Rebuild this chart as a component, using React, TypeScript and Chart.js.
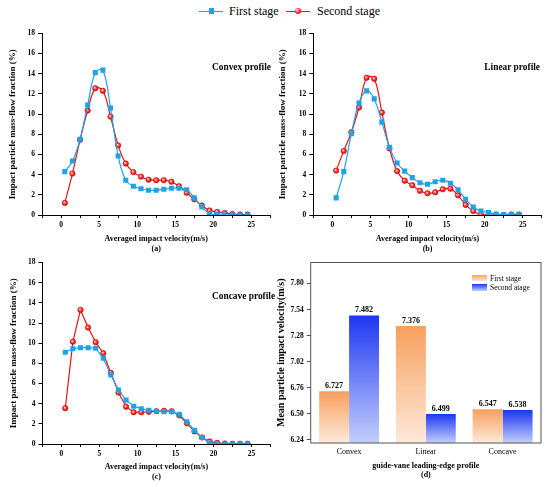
import { useEffect, useRef } from "react";
import Chart from "chart.js/auto";

const FONT = "'Liberation Serif', 'Times New Roman', serif";
const BLUE = "#1fa2e6";
const RED = "#ee1111";

// bin centres of the averaged impact velocity (m/s)
const velocity = [
  0.5, 1.5, 2.5, 3.5, 4.5, 5.5, 6.5, 7.5, 8.5, 9.5, 10.5, 11.5, 12.5, 13.5,
  14.5, 15.5, 16.5, 17.5, 18.5, 19.5, 20.5, 21.5, 22.5, 23.5, 24.5
];

const convexFirst = [
  4.3, 5.35, 7.5, 10.9, 14.1, 14.35, 10.6, 5.85, 3.45, 2.85, 2.6, 2.45, 2.45,
  2.55, 2.65, 2.65, 2.5, 1.7, 0.8, 0.15, 0.05, 0.02, 0, 0, 0
];
const convexSecond = [
  1.2, 4.1, 7.45, 10.35, 12.55, 12.3, 9.75, 6.9, 5.1, 4.25, 3.8, 3.5, 3.45,
  3.45, 3.3, 2.85, 2.2, 1.55, 0.95, 0.45, 0.3, 0.2, 0.1, 0.05, 0.05
];
const linearFirst = [
  1.7, 4.3, 8.05, 11.1, 12.3, 11.5, 9.2, 6.7, 5.15, 4.35, 3.7, 3.2, 3.05, 3.3,
  3.45, 3.15, 2.5, 1.55, 0.8, 0.4, 0.25, 0.1, 0.05, 0.02, 0.02
];
const linearSecond = [
  4.4, 6.35, 8.2, 10.65, 13.6, 13.5, 10.15, 6.6, 4.35, 3.4, 2.95, 2.4, 2.15,
  2.25, 2.55, 2.6, 1.95, 1.0, 0.4, 0.05, 0, 0, 0, 0.05, 0.05
];
const concaveFirst = [
  9.1, 9.45, 9.55, 9.55, 9.5, 8.5, 6.85, 5.35, 4.35, 3.75, 3.5, 3.35, 3.25,
  3.2, 3.2, 2.95, 2.2, 1.35, 0.65, 0.1, 0.02, 0, 0, 0, 0
];
const concaveSecond = [
  3.55, 10.15, 13.3, 11.55, 10.1, 9.0, 7.05, 5.1, 3.7, 3.15, 3.15, 3.2, 3.25,
  3.3, 3.25, 2.85, 2.05, 1.25, 0.65, 0.25, 0.12, 0.05, 0.02, 0.02, 0.02
];

const xTickValues = [-2.5, 0, 2.5, 5, 7.5, 10, 12.5, 15, 17.5, 20, 22.5, 25, 27.5];
const yTickValues = [0, 2, 4, 6, 8, 10, 12, 14, 16, 18];

const barCategories = ["Convex", "Linear", "Concave"];
const barFirst = [6.727, 7.376, 6.547];
const barSecond = [7.482, 6.499, 6.538];
const barTicks = [6.24, 6.5, 6.76, 7.02, 7.28, 7.54, 7.8];

type Geo = {
  axisW: number;
  top: number;
  right: number;
  bottom: number;
  xh: number;
  yTitlePad: number;
};

const sphere = (ctx: any) => {
  const chart = ctx.chart;
  const xs = chart.scales?.x;
  const ys = chart.scales?.y;
  if (!xs || !ys || !ctx.parsed || !chart.chartArea) return RED;
  const px = xs.getPixelForValue(ctx.parsed.x);
  const py = ys.getPixelForValue(ctx.parsed.y);
  const g = chart.ctx.createRadialGradient(px - 0.8, py - 0.8, 0.2, px, py, 3.2);
  g.addColorStop(0, "#ffe0e0");
  g.addColorStop(0.45, "#ff3a3a");
  g.addColorStop(1, "#d00000");
  return g;
};

function LinePanel({
  first,
  second,
  tension,
  label,
  geo
}: {
  first: number[];
  second: number[];
  tension: number;
  label: string;
  geo: Geo;
}) {
  const canvasRef = useRef<HTMLCanvasElement | null>(null);

  useEffect(() => {
    if (!canvasRef.current) return;
    const tickFont = { family: FONT, size: 7.5, weight: "bold" as const };
    const chart = new Chart(canvasRef.current, {
      type: "line",
      data: {
        datasets: [
          {
            label: "First stage",
            data: velocity.map((v, i) => ({ x: v, y: first[i] })),
            borderColor: BLUE,
            backgroundColor: BLUE,
            borderWidth: 1.2,
            pointStyle: "rect",
            pointRadius: 3.6,
            pointBackgroundColor: BLUE,
            pointBorderColor: BLUE,
            pointBorderWidth: 0,
            tension
          },
          {
            label: "Second stage",
            data: velocity.map((v, i) => ({ x: v, y: second[i] })),
            borderColor: RED,
            backgroundColor: RED,
            borderWidth: 1.2,
            pointStyle: "circle",
            pointRadius: 2.7,
            pointBackgroundColor: sphere,
            pointBorderColor: "#c80000",
            pointBorderWidth: 0.6,
            tension
          }
        ]
      },
      options: {
        responsive: true,
        maintainAspectRatio: false,
        animation: false,
        layout: {
          padding: { left: 0, top: geo.top, right: geo.right, bottom: geo.bottom }
        },
        plugins: {
          legend: { display: false },
          tooltip: { enabled: false }
        },
        scales: {
          x: {
            type: "linear",
            min: -2.5,
            max: 27.5,
            afterBuildTicks: (s: any) => {
              s.ticks = xTickValues.map((v) => ({ value: v }));
            },
            afterFit: (s: any) => {
              s.height = geo.xh;
            },
            grid: {
              drawOnChartArea: false,
              drawTicks: true,
              tickLength: 3,
              tickColor: "#000"
            },
            border: { display: true, color: "#000", width: 1 },
            ticks: {
              autoSkip: false,
              maxRotation: 0,
              padding: 3,
              color: "#000",
              font: tickFont,
              callback: (v: any) =>
                Number(v) % 5 === 0 && Number(v) >= 0 && Number(v) <= 25 ? String(v) : ""
            },
            title: {
              display: true,
              text: ["Averaged impact velocity(m/s)", label],
              color: "#000",
              font: { family: FONT, size: 8, weight: "bold", lineHeight: 1.25 },
              padding: { top: 0, bottom: 1 }
            }
          },
          y: {
            min: 0,
            max: 18,
            afterBuildTicks: (s: any) => {
              s.ticks = yTickValues.map((v) => ({ value: v }));
            },
            afterFit: (s: any) => {
              s.width = geo.axisW;
            },
            grid: {
              drawOnChartArea: false,
              drawTicks: true,
              tickLength: 4,
              tickColor: "#000"
            },
            border: { display: true, color: "#000", width: 1 },
            ticks: { padding: 3, color: "#000", font: tickFont },
            title: {
              display: true,
              text: "Impact particle mass-flow fraction (%)",
              color: "#000",
              font: { family: FONT, size: 9, weight: "bold", lineHeight: 1.2 },
              padding: { top: geo.yTitlePad, bottom: 0 }
            }
          }
        }
      }
    });
    return () => chart.destroy();
  }, [first, second, tension, label, geo]);

  return (
    <div style={{ position: "relative", width: "100%", height: "100%" }}>
      <canvas ref={canvasRef} />
    </div>
  );
}

const barGradient = (top: string, bottom: string) => (ctx: any) => {
  const chart = ctx.chart;
  const area = chart.chartArea;
  if (!area || ctx.type !== "data" || !chart.scales?.y) return top;
  const yPx = chart.scales.y.getPixelForValue(ctx.raw);
  const g = chart.ctx.createLinearGradient(0, yPx, 0, area.bottom);
  g.addColorStop(0, top);
  g.addColorStop(1, bottom);
  return g;
};

const framePlugin = {
  id: "frame",
  afterDraw(chart: any) {
    const { ctx, chartArea: a } = chart;
    ctx.save();
    ctx.strokeStyle = "#555";
    ctx.lineWidth = 1;
    ctx.strokeRect(a.left, a.top, a.right - a.left, a.bottom - a.top);
    ctx.restore();
  }
};

const valueLabels = {
  id: "valueLabels",
  afterDatasetsDraw(chart: any) {
    const { ctx } = chart;
    ctx.save();
    ctx.font = `bold 8px ${FONT}`;
    ctx.fillStyle = "#000";
    ctx.textAlign = "center";
    ctx.textBaseline = "bottom";
    chart.data.datasets.forEach((ds: any, di: number) => {
      chart.getDatasetMeta(di).data.forEach((el: any, i: number) => {
        ctx.fillText(Number(ds.data[i]).toFixed(3), el.x, el.y - 1.5);
      });
    });
    ctx.restore();
  }
};

function BarPanel() {
  const canvasRef = useRef<HTMLCanvasElement | null>(null);

  useEffect(() => {
    if (!canvasRef.current) return;
    const chart = new Chart(canvasRef.current, {
      type: "bar",
      data: {
        labels: barCategories,
        datasets: [
          {
            label: "First stage",
            data: barFirst,
            backgroundColor: barGradient("#f6a05c", "#fde9da"),
            borderWidth: 0
          },
          {
            label: "Second atage",
            data: barSecond,
            backgroundColor: barGradient("#1d36f2", "#c4cffa"),
            borderWidth: 0
          }
        ]
      },
      plugins: [framePlugin, valueLabels],
      options: {
        responsive: true,
        maintainAspectRatio: false,
        animation: false,
        layout: { padding: { left: 0, top: 6, right: 9, bottom: 6 } },
        datasets: { bar: { categoryPercentage: 0.78, barPercentage: 1 } },
        plugins: {
          legend: { display: false },
          tooltip: { enabled: false }
        },
        scales: {
          x: {
            afterFit: (s: any) => {
              s.height = 38;
            },
            grid: { display: false, drawTicks: false, tickLength: 0 },
            border: { display: false },
            ticks: {
              padding: 4,
              color: "#000",
              font: { family: FONT, size: 8 }
            },
            title: {
              display: true,
              text: ["guide-vane leading-edge profile", "(d)"],
              color: "#000",
              font: { family: FONT, size: 8, weight: "bold", lineHeight: 1.15 },
              padding: { top: 0, bottom: 1 }
            }
          },
          y: {
            min: 6.21,
            max: 8.01,
            afterBuildTicks: (s: any) => {
              s.ticks = barTicks.map((v) => ({ value: v }));
            },
            afterFit: (s: any) => {
              s.width = 35.7;
            },
            grid: {
              drawOnChartArea: false,
              drawTicks: true,
              tickLength: 4,
              tickColor: "#555"
            },
            border: { display: false },
            ticks: {
              padding: 3,
              color: "#000",
              font: { family: FONT, size: 7.5, weight: "bold" },
              callback: (v: any) => Number(v).toFixed(2)
            },
            title: {
              display: true,
              text: "Mean particle impact velocity(m/s)",
              color: "#000",
              font: { family: FONT, size: 10, weight: "bold", lineHeight: 1.2 },
              padding: { top: 0, bottom: 0 }
            }
          }
        }
      }
    });
    return () => chart.destroy();
  }, []);

  return (
    <div style={{ position: "relative", width: "100%", height: "100%" }}>
      <canvas ref={canvasRef} />
    </div>
  );
}

const geoA: Geo = { axisW: 42, top: 13.3, right: 2.5, bottom: 0, xh: 40, yTitlePad: 7.6 };
const geoB: Geo = { axisW: 38.3, top: 13.3, right: 8.2, bottom: 0, xh: 40, yTitlePad: 1.9 };
const geoC: Geo = { axisW: 42.5, top: 6.7, right: 1.8, bottom: 4, xh: 39, yTitlePad: 7.9 };

const abs = (left: number, top: number, width: number, height: number) => ({
  position: "absolute" as const,
  left,
  top,
  width,
  height
});

const panelTitle = {
  position: "absolute" as const,
  font: `bold 9.4px ${FONT}`,
  lineHeight: "12px",
  whiteSpace: "nowrap" as const,
  color: "#000"
};

export default function App() {
  return (
    <div
      style={{
        position: "fixed",
        left: 0,
        top: 0,
        width: 550,
        height: 487,
        background: "#fff",
        fontFamily: FONT,
        overflow: "hidden"
      }}
    >
      {/* shared legend */}
      <div style={abs(199, 4, 24, 14)}>
        <div style={{ position: "absolute", left: 0, top: 6.5, width: 24, height: 1.2, background: BLUE }} />
        <div style={{ position: "absolute", left: 9.5, top: 4, width: 5.5, height: 5.5, background: BLUE }} />
      </div>
      <div style={{ ...abs(229, 3, 60, 16), fontSize: 12, lineHeight: "16px", color: "#000" }}>First stage</div>
      <div style={abs(286, 4, 24, 14)}>
        <div style={{ position: "absolute", left: 0, top: 6.5, width: 24, height: 1.2, background: RED }} />
        <div
          style={{
            position: "absolute",
            left: 9.3,
            top: 4.3,
            width: 5.4,
            height: 5.4,
            borderRadius: "50%",
            background: "radial-gradient(circle at 35% 35%, #ffe0e0 0%, #ff3a3a 45%, #d00000 100%)"
          }}
        />
      </div>
      <div style={{ ...abs(317, 3, 80, 16), fontSize: 12, lineHeight: "16px", color: "#000" }}>Second stage</div>

      <div style={abs(0, 20, 275, 235)}>
        <LinePanel first={convexFirst} second={convexSecond} tension={0.4} label="(a)" geo={geoA} />
      </div>
      <div style={abs(275, 20, 275, 235)}>
        <LinePanel first={linearFirst} second={linearSecond} tension={0.4} label="(b)" geo={geoB} />
      </div>
      <div style={abs(0, 255, 275, 232)}>
        <LinePanel first={concaveFirst} second={concaveSecond} tension={0} label="(c)" geo={geoC} />
      </div>
      <div style={abs(275, 255, 275, 232)}>
        <BarPanel />
      </div>

      <div style={{ ...panelTitle, left: 212, top: 60.5 }}>Convex profile</div>
      <div style={{ ...panelTitle, right: 10, top: 60.5 }}>Linear profile</div>
      <div style={{ ...panelTitle, left: 212, top: 289.5 }}>Concave profile</div>

      {/* legend inside panel (d) */}
      <div
        style={{
          ...abs(471.7, 274.7, 15.6, 6.8),
          background: "linear-gradient(#f7a466, #fde3cf)"
        }}
      />
      <div
        style={{
          ...abs(471.7, 283.5, 15.6, 7.6),
          background: "linear-gradient(#1d36f2, #c4cffa)"
        }}
      />
      <div style={{ ...abs(490, 273.5, 50, 9), fontSize: 7.5, lineHeight: "9px", color: "#000", whiteSpace: "nowrap" }}>
        First stage
      </div>
      <div style={{ ...abs(490, 282.8, 50, 9), fontSize: 7.5, lineHeight: "9px", color: "#000", whiteSpace: "nowrap" }}>
        Second atage
      </div>
    </div>
  );
}
